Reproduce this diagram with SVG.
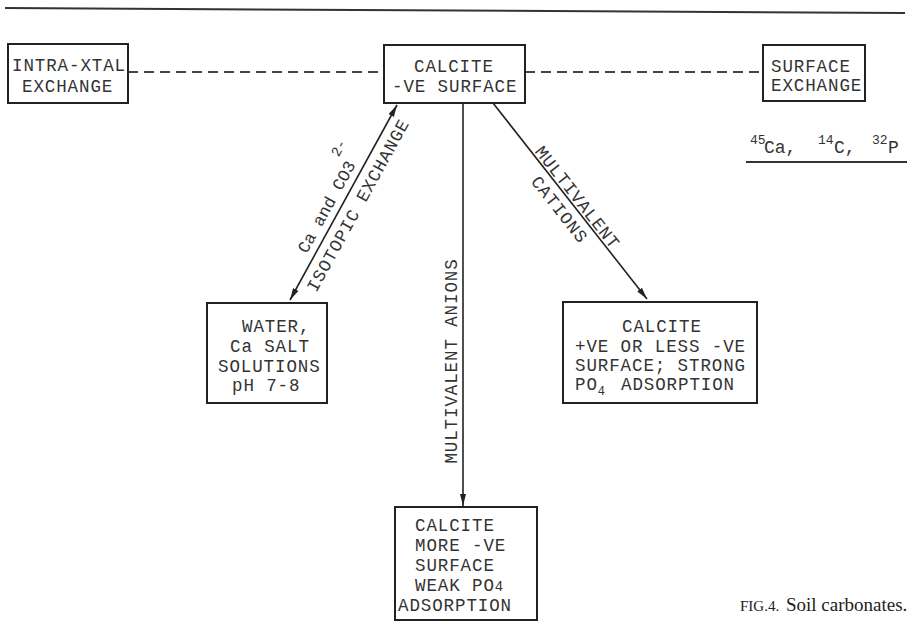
<svg xmlns="http://www.w3.org/2000/svg" width="910" height="622" viewBox="0 0 910 622">
<defs>
<style>
.box{fill:#fff;stroke:#222;stroke-width:2}
.t{font-family:"Liberation Mono","DejaVu Sans Mono",monospace;font-size:17.5px;letter-spacing:0.9px;fill:#333}
.s{font-family:"Liberation Mono","DejaVu Sans Mono",monospace;fill:#333}
.ln{stroke:#222;stroke-width:1.6;fill:none}
.dash{stroke:#444;stroke-width:1.8;stroke-dasharray:10 6;fill:none}
.cap{font-family:"Liberation Serif","Times New Roman",serif;fill:#222}
</style>
<marker id="ah" viewBox="0 0 12 8" refX="12" refY="4" markerWidth="12" markerHeight="8" markerUnits="userSpaceOnUse" orient="auto-start-reverse">
<path d="M0,1 L12,4 L0,7 Z" fill="#222"/>
</marker>
</defs>
<rect width="910" height="622" fill="#fff"/>
<line x1="5" y1="8" x2="905" y2="13" stroke="#333" stroke-width="2"/>

<g id="connectors">
<line class="dash" x1="128" y1="72" x2="384" y2="72"/>
<line class="dash" x1="525" y1="72" x2="763" y2="72"/>
<line class="ln" x1="290" y1="300" x2="397" y2="105" marker-start="url(#ah)" marker-end="url(#ah)"/>
<line class="ln" x1="463" y1="104" x2="463" y2="506" marker-end="url(#ah)"/>
<line class="ln" x1="493" y1="103" x2="647" y2="299" marker-end="url(#ah)"/>
<text class="s" font-size="17" transform="translate(335,203) rotate(-61.2)" text-anchor="middle">Ca and CO3<tspan font-size="14" dx="-2" dy="-19">2-</tspan></text>
<text class="t" text-anchor="middle" transform="translate(363,208) rotate(-61.2)">ISOTOPIC EXCHANGE</text>
<text class="t" text-anchor="middle" transform="translate(457,361) rotate(-90)">MULTIVALENT ANIONS</text>
<text class="t" text-anchor="middle" transform="translate(573,201) rotate(51.8)">MULTIVALENT</text>
<text class="t" text-anchor="middle" transform="translate(555,213) rotate(51.8)">CATIONS</text>
</g>

<g id="intra">
<rect class="box" x="8" y="44" width="120" height="59"/>
<text class="t" x="12" y="71">INTRA-XTAL</text>
<text class="t" x="22" y="92">EXCHANGE</text>
</g>

<g id="calcite-top">
<rect class="box" x="384" y="45" width="141" height="58"/>
<text class="t" x="414" y="72">CALCITE</text>
<text class="t" x="392" y="92">-VE SURFACE</text>
</g>

<g id="surface">
<rect class="box" x="763" y="45" width="102" height="56"/>
<text class="t" x="771" y="72">SURFACE</text>
<text class="t" x="771" y="91">EXCHANGE</text>
</g>

<g id="isotopes">
<text class="s" font-size="18"><tspan x="750" y="144" font-size="13">45</tspan><tspan x="764" y="153">Ca,</tspan><tspan x="818" y="144" font-size="13">14</tspan><tspan x="834" y="153">C,</tspan><tspan x="872" y="144" font-size="13">32</tspan><tspan x="888" y="153">P</tspan></text>
<line x1="746" y1="162" x2="907" y2="162" stroke="#333" stroke-width="1.8"/>
</g>

<g id="water">
<rect class="box" x="207" y="303" width="120" height="100"/>
<text class="t" x="242" y="332">WATER,</text>
<text class="t" x="230" y="352">Ca SALT</text>
<text class="t" x="218" y="372">SOLUTIONS</text>
<text class="t" x="232" y="391">pH 7-8</text>
</g>

<g id="calcite-right">
<rect class="box" x="563" y="302" width="194" height="101"/>
<text class="t" x="622" y="332">CALCITE</text>
<text class="t" x="575" y="352">+VE OR LESS -VE</text>
<text class="t" x="575" y="371">SURFACE; STRONG</text>
<text class="t" x="575" y="390">PO<tspan font-size="12" dy="5">4</tspan><tspan x="621" dy="-5">ADSORPTION</tspan></text>
</g>

<g id="calcite-bottom">
<rect class="box" x="395" y="507" width="142" height="113"/>
<text class="t" x="415" y="531">CALCITE</text>
<text class="t" x="415" y="551">MORE -VE</text>
<text class="t" x="415" y="571">SURFACE</text>
<text class="t" x="415" y="591">WEAK PO<tspan font-size="14">4</tspan></text>
<text class="t" x="398" y="611">ADSORPTION</text>
</g>

<g id="caption">
<text class="cap" font-size="15" x="740" y="611">FIG.4.</text>
<text class="cap" font-size="19" x="786" y="611">Soil carbonates.</text>
</g>
</svg>
